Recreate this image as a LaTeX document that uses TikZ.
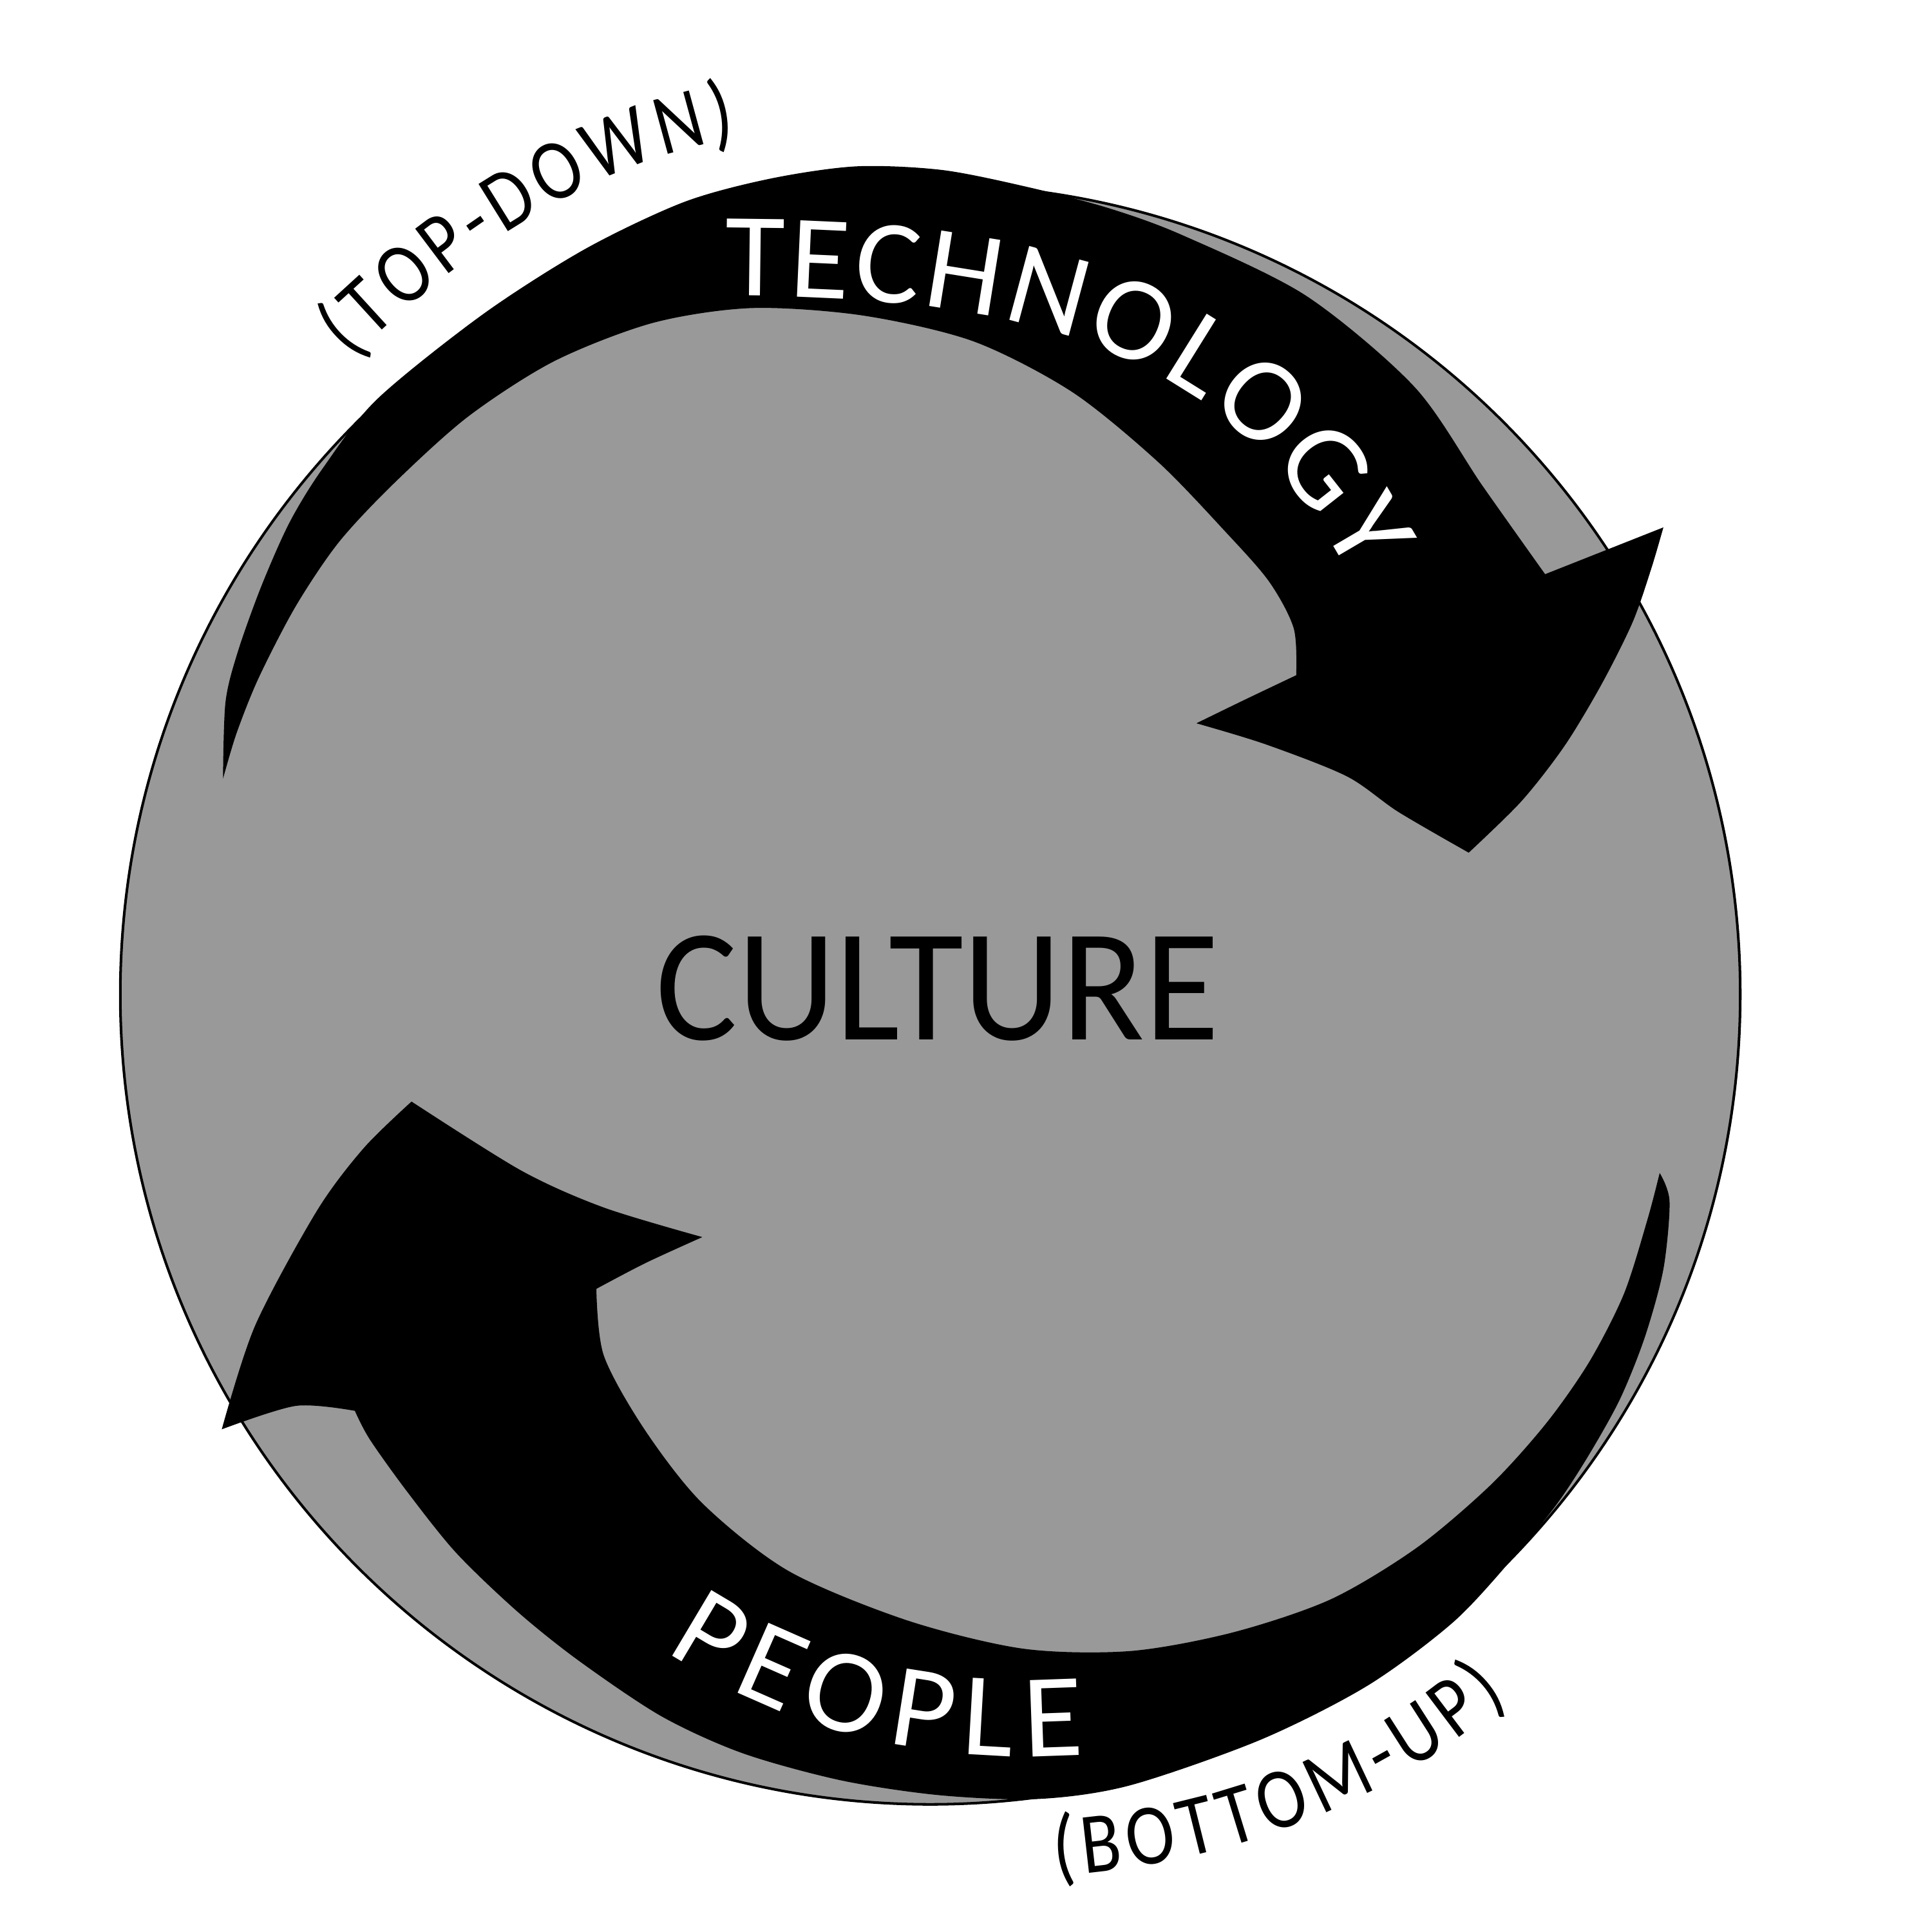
\documentclass[tikz,border=0pt]{standalone}
\usepackage{fontspec}
\setmainfont{Carlito}
\newfontfamily\culturefont[FakeStretch=0.955]{Carlito}
\newfontfamily\bandfamily[FakeStretch=1.03]{Carlito}
\newfontfamily\tagfamily[FakeStretch=0.85]{Carlito}
\usetikzlibrary{decorations.text}
\definecolor{diskgray}{RGB}{153,153,153}
\newcommand\bandfont{\bandfamily\fontsize{27.5}{30}\selectfont}
\newcommand\tagfont{\tagfamily\fontsize{20}{22}\selectfont}
\begin{document}
\begin{tikzpicture}[x=0.01cm,y=0.01cm,
  diskstyle/.style={circle, draw=black, line width=0.6pt, fill=diskgray, minimum size=13.14cm, inner sep=0pt},
  arrowshape/.style={fill=black, draw=none},
  arctext/.style={decorate, decoration={text along path, text align={fit to path}}},
  centertext/.style={font=\culturefont\fontsize{37}{40}\selectfont, text=black, inner sep=0pt}]
\fill[white] (0,0) rectangle (1568,-1568);
\path[use as bounding box] (0,0) rectangle (1568,-1568);

% the culture disk
\node[diskstyle] (disk) at (755,-807) {};

% top arrow (technology)
\path[arrowshape]
  plot[smooth] coordinates {(181,-632) (183,-570) (193,-529) (212,-476) (235,-424) (262,-380) (306,-324) (392,-255) (475,-202) (555,-164) (625,-145) (695,-135) (765,-138) (835,-152) (900,-169) (960,-191) (1060,-240) (1148,-314) (1203,-394) (1254,-466)}
  -- plot[smooth] coordinates {(1350,-428) (1340,-462) (1325,-505) (1300,-555) (1270,-605) (1235,-650) (1192,-692)}
  -- plot[smooth] coordinates {(1192,-692) (1135,-659) (1093,-630) (1027,-604) (971,-587)}
  -- plot[smooth] coordinates {(971,-587) (1010,-568) (1052,-548)}
  -- plot[smooth] coordinates {(1052,-548) (1050,-510) (1030,-472) (995,-432) (940,-375) (870,-318) (790,-277) (700,-256) (610,-250) (530,-262) (450,-293) (380,-338) (320,-392) (275,-440) (240,-492) (210,-550) (192,-595) (181,-632)}
  -- cycle;

% bottom arrow (people)
\path[arrowshape]
  plot[smooth] coordinates {(1347,-952) (1355,-975) (1350,-1030) (1335,-1085) (1315,-1135) (1290,-1180) (1264,-1220) (1230,-1262) (1180,-1316) (1110,-1368) (1023,-1412) (917,-1449) (843,-1460) (763,-1457) (683,-1445) (603,-1423) (537,-1393) (470,-1348) (420,-1308) (370,-1260) (330,-1210) (300,-1168) (288,-1145)}
  -- plot[smooth] coordinates {(288,-1145) (240,-1141) (180,-1160)}
  -- plot[smooth] coordinates {(180,-1160) (207,-1076) (257,-983) (295,-932) (334,-894)}
  -- plot[smooth] coordinates {(334,-894) (423,-950) (490,-980) (570,-1004)}
  -- plot[smooth] coordinates {(570,-1004) (524,-1025) (484,-1046)}
  -- plot[smooth] coordinates {(484,-1046) (490,-1100) (523,-1160) (570,-1220) (640,-1275) (736,-1315) (830,-1338) (917,-1340) (1000,-1325) (1080,-1298) (1150,-1256) (1210,-1205) (1255,-1155) (1290,-1105) (1318,-1050) (1337,-990) (1347,-952)}
  -- cycle;

% labels along the arrows
\path[arctext, decoration={text={|\bandfont|TECHNOLOGY}, text color=white}]
  (588,-240) .. controls (840,-240) and (1000,-285) .. (1096,-468);
\path[arctext, decoration={text={|\bandfont|PEOPLE}, text color=white}]
  (540,-1340) .. controls (640,-1407) and (760,-1433) .. (880,-1424);
\path[arctext, decoration={text={|\tagfont|(TOP-DOWN)}, text color=black}]
  (285,-292) .. controls (373,-205) and (482,-130) .. (598,-112);
\path[arctext, decoration={text={|\tagfont|(BOTTOM-UP)}, text color=black}]
  (856,-1522) .. controls (990,-1516) and (1130,-1462) .. (1224,-1378);

% centre label
\node[centertext, anchor=base] (culture) at (761,-844) {CULTURE};
\end{tikzpicture}
\end{document}
